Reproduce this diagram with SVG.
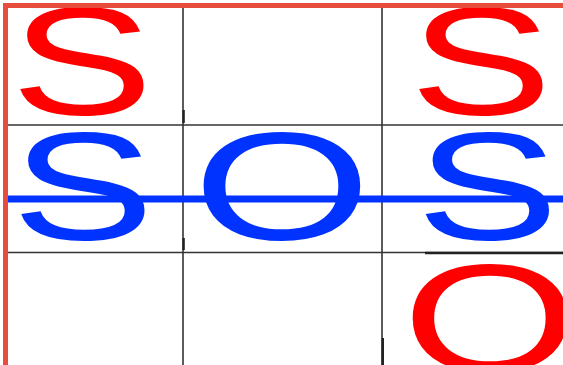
<svg xmlns="http://www.w3.org/2000/svg" width="563" height="365" viewBox="0 0 563 365">
<style>
.grid{stroke:#333;stroke-width:1.6;fill:none}
.gridk{stroke:#222;stroke-width:2.4;fill:none}
.L{font-family:"Liberation Sans",Arial,sans-serif;font-size:154px;text-anchor:middle}
.red{fill:#ff0000}
.blue{fill:#0033ff}
</style>
<rect x="0" y="0" width="563" height="365" fill="#ffffff"/>
<g id="grid">
<line class="grid" x1="183" y1="8" x2="183" y2="365"/>
<line class="grid" x1="382" y1="8" x2="382" y2="365"/>
<line class="grid" x1="8" y1="125" x2="563" y2="125"/>
<line class="grid" x1="8" y1="252.5" x2="563" y2="252.5"/>
<line class="gridk" x1="183.6" y1="110" x2="183.6" y2="123"/>
<line class="gridk" x1="183.6" y1="238" x2="183.6" y2="250"/>
<line class="gridk" x1="382.8" y1="338" x2="382.8" y2="365"/>
<line class="gridk" x1="425" y1="253" x2="563" y2="253"/>
</g>
<g id="cell-r1c1"><text class="L red" transform="translate(82,115) scale(1.39,1)">S</text></g>
<g id="cell-r1c3"><text class="L red" transform="translate(481,115) scale(1.39,1)">S</text></g>
<g id="cell-r2c1"><text class="L blue" transform="translate(83,240) scale(1.39,1)">S</text></g>
<g id="cell-r2c2"><text class="L blue" transform="translate(282,240) scale(1.49,1)">O</text></g>
<g id="cell-r2c3"><text class="L blue" transform="translate(487.5,240) scale(1.39,1)">S</text></g>
<g id="cell-r3c3"><text class="L red" transform="translate(490,372) scale(1.47,1)">O</text></g>
<g id="connectors">
<line x1="8" y1="199" x2="563" y2="199" stroke="#0033ff" stroke-width="7"/>
</g>
<rect x="5.5" y="5.5" width="600" height="400" fill="none" stroke="#e74c3c" stroke-width="5"/>
</svg>
